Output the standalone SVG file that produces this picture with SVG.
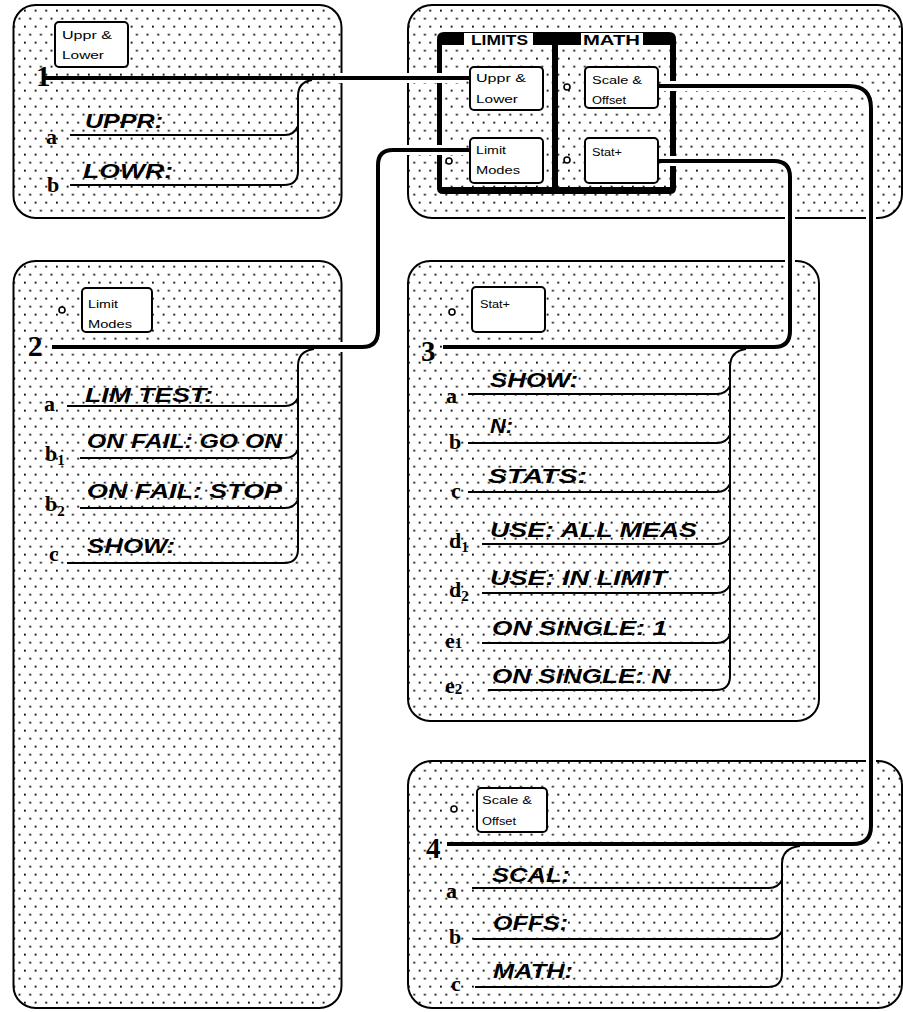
<svg xmlns="http://www.w3.org/2000/svg" width="903" height="1012" viewBox="0 0 903 1012">
<defs>
<pattern id="dots" patternUnits="userSpaceOnUse" x="2.667" y="9.7" width="10.667" height="16">
<rect width="10.667" height="16" fill="#fff"/>
<rect x="0" y="0" width="1.8" height="1.8" fill="#000"/>
<rect x="5.333" y="8" width="1.8" height="1.8" fill="#000"/>
</pattern>
</defs>
<style>
.panel{fill:url(#dots);stroke:#000;stroke-width:2}
.box{fill:#fff;stroke:#000;stroke-width:2}
.btxt{font-family:"Liberation Sans",Arial,sans-serif;font-size:10px;fill:#000}
.item{font-family:"Liberation Sans",Arial,sans-serif;font-size:20px;font-weight:bold;font-style:italic;fill:#000}
.lbl{font-family:"Liberation Serif","Times New Roman",serif;font-size:22px;font-weight:bold;fill:#000}
.sub{font-size:15px}
.num{font-family:"Liberation Serif","Times New Roman",serif;font-size:29px;font-weight:bold;fill:#000}
.thin{fill:none;stroke:#000;stroke-width:2}
.tab{font-family:"Liberation Sans",Arial,sans-serif;font-size:15px;font-weight:bold;fill:#000}
.halo{fill:none;stroke:#fff;stroke-width:10}
.conn{fill:none;stroke:#000;stroke-width:4}
.mk{fill:#fff;stroke:#000;stroke-width:1.6}
</style>

<g id="panel-1">
<rect class="panel" x="13.5" y="5" width="328" height="213" rx="22"/>
<rect class="box" x="55" y="22" width="73" height="45" rx="4"/>
<text class="btxt" x="62" y="39" textLength="50" lengthAdjust="spacingAndGlyphs">Uppr &amp;</text>
<text class="btxt" x="62" y="59" textLength="42" lengthAdjust="spacingAndGlyphs">Lower</text>
<text class="num" x="36" y="86">1</text>
<path class="thin" d="M312,80 Q298,82 298,96 V171 Q298,185 284,185 H70"/>
<path class="thin" d="M70,135 H285 Q294,135 298,126"/>
<text class="lbl" x="46" y="144">a</text>
<text class="lbl" x="47" y="192">b</text>
<text class="item" x="85" y="128" textLength="78" lengthAdjust="spacingAndGlyphs">UPPR:</text>
<text class="item" x="83" y="178" textLength="90" lengthAdjust="spacingAndGlyphs">LOWR:</text>
</g>

<g id="panel-limits-math">
<rect class="panel" x="408" y="5" width="494" height="213" rx="24"/>
<path d="M437,45 V39 Q437,32 444,32 H669 Q676,32 676,39 V45 Z" fill="#000"/>
<rect x="464" y="33" width="69" height="12" fill="#fff"/>
<rect x="581" y="33" width="62" height="12" fill="#fff"/>
<text class="tab" x="471" y="45" textLength="57" lengthAdjust="spacingAndGlyphs">LIMITS</text>
<text class="tab" x="583" y="45" textLength="57" lengthAdjust="spacingAndGlyphs">MATH</text>
<rect x="437" y="45" width="5" height="144" fill="#000"/>
<rect x="670" y="45" width="6" height="144" fill="#000"/>
<rect x="552" y="45" width="6" height="144" fill="#000"/>
<path d="M437,187 H676 V188 Q676,194 670,194 H443 Q437,194 437,188 Z" fill="#000"/>
<rect class="box" x="470" y="67" width="73" height="43" rx="4"/>
<text class="btxt" x="476" y="82" textLength="50" lengthAdjust="spacingAndGlyphs">Uppr &amp;</text>
<text class="btxt" x="476" y="103" textLength="42" lengthAdjust="spacingAndGlyphs">Lower</text>
<rect class="box" x="470" y="138" width="73" height="45" rx="4"/>
<text class="btxt" x="476" y="154" textLength="30" lengthAdjust="spacingAndGlyphs">Limit</text>
<text class="btxt" x="476" y="174" textLength="44" lengthAdjust="spacingAndGlyphs">Modes</text>
<rect class="box" x="585" y="67" width="73" height="41" rx="4"/>
<text class="btxt" x="592" y="84" textLength="50" lengthAdjust="spacingAndGlyphs">Scale &amp;</text>
<text class="btxt" x="592" y="104" textLength="34" lengthAdjust="spacingAndGlyphs">Offset</text>
<rect class="box" x="585" y="138" width="73" height="45" rx="4"/>
<text class="btxt" x="592" y="156" textLength="30" lengthAdjust="spacingAndGlyphs">Stat+</text>
<circle class="mk" cx="449" cy="161" r="3"/>
<circle class="mk" cx="567" cy="87" r="3"/>
<circle class="mk" cx="567" cy="160" r="3"/>
</g>

<g id="panel-2">
<rect class="panel" x="13.5" y="261" width="328" height="747" rx="22"/>
<circle class="mk" cx="62" cy="310" r="3"/>
<rect class="box" x="82" y="288" width="70" height="44" rx="4"/>
<text class="btxt" x="88" y="308" textLength="30" lengthAdjust="spacingAndGlyphs">Limit</text>
<text class="btxt" x="88" y="328" textLength="44" lengthAdjust="spacingAndGlyphs">Modes</text>
<text class="num" x="28" y="356">2</text>
<path class="thin" d="M314,349 Q298,351 298,366 V549 Q298,563 284,563 H67"/>
<path class="thin" d="M67,406 H285 Q294,406 298,398"/>
<path class="thin" d="M80,458 H285 Q294,458 298,450"/>
<path class="thin" d="M80,508 H285 Q294,508 298,500"/>
<text class="lbl" x="44" y="411">a</text>
<text class="lbl" x="45" y="461">b<tspan class="sub" dy="4">1</tspan></text>
<text class="lbl" x="45" y="511">b<tspan class="sub" dy="5">2</tspan></text>
<text class="lbl" x="49" y="561">c</text>
<text class="item" x="85" y="402" textLength="128" lengthAdjust="spacingAndGlyphs">LIM TEST:</text>
<text class="item" x="87" y="448" textLength="195" lengthAdjust="spacingAndGlyphs">ON FAIL: GO ON</text>
<text class="item" x="87" y="498" textLength="195" lengthAdjust="spacingAndGlyphs">ON FAIL: STOP</text>
<text class="item" x="87" y="553" textLength="88" lengthAdjust="spacingAndGlyphs">SHOW:</text>
</g>

<g id="panel-3">
<rect class="panel" x="408" y="261" width="411" height="460" rx="22"/>
<circle class="mk" cx="452" cy="312" r="3"/>
<rect class="box" x="472" y="287" width="73" height="45" rx="4"/>
<text class="btxt" x="480" y="308" textLength="30" lengthAdjust="spacingAndGlyphs">Stat+</text>
<text class="num" x="421" y="361">3</text>
<path class="thin" d="M746,349 Q730,351 730,367 V676 Q730,690 716,690 H488"/>
<path class="thin" d="M468,394 H717 Q726,394 730,386"/>
<path class="thin" d="M468,443 H717 Q726,443 730,435"/>
<path class="thin" d="M468,492 H717 Q726,492 730,484"/>
<path class="thin" d="M482,544 H717 Q726,544 730,536"/>
<path class="thin" d="M482,593 H717 Q726,593 730,585"/>
<path class="thin" d="M482,643 H717 Q726,643 730,635"/>
<text class="lbl" x="446" y="403">a</text>
<text class="lbl" x="449" y="449">b</text>
<text class="lbl" x="451" y="498">c</text>
<text class="lbl" x="449" y="548">d<tspan class="sub" dy="4">1</tspan></text>
<text class="lbl" x="449" y="597">d<tspan class="sub" dy="4">2</tspan></text>
<text class="lbl" x="445" y="648">e<tspan class="sub" dy="0">1</tspan></text>
<text class="lbl" x="445" y="693">e<tspan class="sub" dy="1">2</tspan></text>
<text class="item" x="490" y="387" textLength="88" lengthAdjust="spacingAndGlyphs">SHOW:</text>
<text class="item" x="490" y="433" textLength="23" lengthAdjust="spacingAndGlyphs">N:</text>
<text class="item" x="488" y="483" textLength="99" lengthAdjust="spacingAndGlyphs">STATS:</text>
<text class="item" x="490" y="537" textLength="207" lengthAdjust="spacingAndGlyphs">USE: ALL MEAS</text>
<text class="item" x="490" y="585" textLength="177" lengthAdjust="spacingAndGlyphs">USE: IN LIMIT</text>
<text class="item" x="492" y="635" textLength="175" lengthAdjust="spacingAndGlyphs">ON SINGLE: 1</text>
<text class="item" x="492" y="683" textLength="178" lengthAdjust="spacingAndGlyphs">ON SINGLE: N</text>
</g>

<g id="panel-4">
<rect class="panel" x="408" y="761" width="494" height="247" rx="24"/>
<circle class="mk" cx="454" cy="809" r="3"/>
<rect class="box" x="477" y="788" width="70" height="44" rx="4"/>
<text class="btxt" x="482" y="804" textLength="50" lengthAdjust="spacingAndGlyphs">Scale &amp;</text>
<text class="btxt" x="482" y="825" textLength="34" lengthAdjust="spacingAndGlyphs">Offset</text>
<text class="num" x="426" y="858">4</text>
<path class="thin" d="M800,846 Q782,848 782,864 V973 Q782,987 768,987 H475"/>
<path class="thin" d="M472,888 H769 Q778,888 782,880"/>
<path class="thin" d="M473,939 H769 Q778,939 782,931"/>
<text class="lbl" x="446" y="898">a</text>
<text class="lbl" x="449" y="944">b</text>
<text class="lbl" x="451" y="991">c</text>
<text class="item" x="492" y="882" textLength="78" lengthAdjust="spacingAndGlyphs">SCAL:</text>
<text class="item" x="493" y="930" textLength="75" lengthAdjust="spacingAndGlyphs">OFFS:</text>
<text class="item" x="493" y="978" textLength="80" lengthAdjust="spacingAndGlyphs">MATH:</text>
</g>

<g id="connectors">
<path class="halo" d="M335,78 H466"/>
<path class="halo" d="M466,150 H393 Q378,150 378,165 V331 Q378,347 362,347 H330"/>
<path class="halo" d="M662,161 H774 Q790,161 790,177 V331 Q790,347 774,347 H760"/>
<path class="halo" d="M662,86 H849 Q871,86 871,108 V826 Q871,844 853,844 H815"/>
<path class="conn" d="M45,78 H470"/>
<path class="conn" d="M470,150 H393 Q378,150 378,165 V331 Q378,347 362,347 H52"/>
<path class="conn" d="M658,161 H774 Q790,161 790,177 V331 Q790,347 774,347 H443"/>
<path class="conn" d="M658,86 H849 Q871,86 871,108 V826 Q871,844 853,844 H447"/>
</g>
</svg>
